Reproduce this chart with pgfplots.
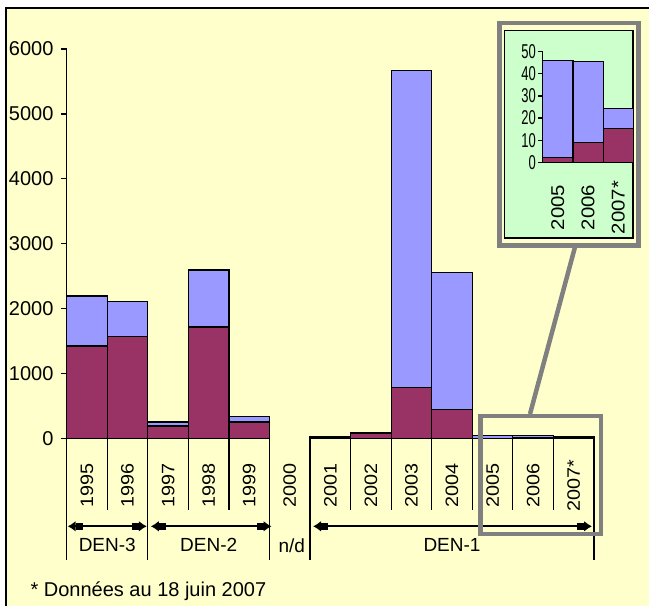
\documentclass[border=0pt]{standalone}
\usepackage{fontspec}
\setmainfont{Liberation Sans}
\newfontfamily\insetfont[FakeStretch=0.65]{Liberation Sans}
\newfontfamily\yearfont[FakeStretch=1.1]{Liberation Sans}
\usepackage{pgfplots}
\pgfplotsset{compat=1.18}
\usetikzlibrary{arrows.meta}
\definecolor{barred}{HTML}{993366}
\definecolor{barblue}{HTML}{9999FF}
\definecolor{bgyellow}{HTML}{FFFFCC}
\definecolor{insetgreen}{HTML}{CCFFCC}
\definecolor{framegray}{HTML}{808080}
\newcommand\fs[1]{\fontsize{#1}{#1}\selectfont}
\tikzset{denarrow/.style={line width=2pt,
  {Latex[length=8pt,width=11pt] Rectangle[length=7pt,width=7pt]}-{Rectangle[length=7pt,width=7pt] Latex[length=8pt,width=11pt]}}}
\begin{document}
\begin{tikzpicture}
\useasboundingbox (0pt,0pt) rectangle (649pt,-606pt);
\fill[white] (0pt,0pt) rectangle (649pt,-606pt);
\fill[bgyellow] (6pt,-8pt) rectangle (649pt,-606pt);
\draw[line width=1.6pt] (6pt,-606pt) -- (6pt,-8pt) -- (649pt,-8pt);

\begin{axis}[
  at={(66.7pt,-438.3pt)}, anchor=south west,
  scale only axis, width=527.3pt, height=389.3pt,
  xmin=-0.5, xmax=12.5, ymin=0, ymax=6000,
  clip=false,
  ybar stacked, bar width=40.56pt,
  axis x line=bottom, axis y line=left,
  axis line style={-, line width=1.5pt},
  x axis line style={draw=none},
  xtick={0,...,12},
  xticklabels={1995,1996,1997,1998,1999,2000,2001,2002,2003,2004,2005,2006,2007*},
  xtick style={draw=none},
  xticklabel style={yshift=-41.7pt, rotate=90, anchor=center, font=\yearfont\fs{18pt}},
  ytick={0,1000,2000,3000,4000,5000,6000},
  ytick style={line width=1.3pt, black},
  tick align=outside, major tick length=5.7pt,
  yticklabel style={font=\fs{20pt}, xshift=-4pt},
  /pgf/number format/assume math mode=true,
  /pgf/number format/1000 sep={},
]
\addplot[fill=barred, draw=black, line width=1.2pt] coordinates {
  (0,1422) (1,1566) (2,190) (3,1715) (4,251) (6,10) (7,80) (8,786) (9,447) (10,2) (11,9) (12,15)};
\addplot[fill=barblue, draw=black, line width=1.2pt] coordinates {
  (0,771) (1,539) (2,61) (3,878) (4,82) (6,10) (7,8) (8,4889) (9,2111) (10,44) (11,36) (12,9)};
\draw[line width=2pt] (axis cs:-0.5,0) -- (axis cs:4.5,0);
\draw[line width=2pt] (axis cs:5.5,0) -- (axis cs:12.5,0);
\pgfplotsinvokeforeach{0.5,2.5,3.5,6.5,7.5,8.5,9.5,10.5,11.5}{
  \draw[line width=1.2pt] (axis cs:#1,0) -- ++(0pt,-72pt);
}
\pgfplotsinvokeforeach{-0.5,1.5,4.5,5.5,12.5}{
  \draw[line width=1.2pt] (axis cs:#1,0) -- ++(0pt,-122pt);
}
\draw[denarrow]
  ([xshift=1pt,yshift=-88pt]axis cs:-0.5,0) -- ([xshift=-1pt,yshift=-88pt]axis cs:1.5,0);
\draw[denarrow]
  ([xshift=3pt,yshift=-88pt]axis cs:1.5,0) -- ([xshift=2pt,yshift=-88pt]axis cs:4.5,0);
\draw[denarrow]
  ([xshift=3pt,yshift=-88pt]axis cs:5.5,0) -- ([xshift=-2pt,yshift=-88pt]axis cs:12.5,0);
\node[font=\fs{19pt}] at ([yshift=-107pt]axis cs:0.5,0) {DEN-3};
\node[font=\fs{19pt}] at ([yshift=-107pt]axis cs:3.0,0) {DEN-2};
\node[font=\fs{19pt}] at ([yshift=-107pt]axis cs:5.05,0) {n/d};
\node[font=\fs{19pt}] at ([yshift=-107pt]axis cs:9.0,0) {DEN-1};
\end{axis}

% inset frame
\draw[framegray, line width=4.5pt] (499.3pt,-22.8pt) rectangle (638.5pt,-245.5pt);
\filldraw[fill=insetgreen, draw=black, line width=1.3pt] (504.5pt,-30.5pt) rectangle (633pt,-238pt);

\begin{axis}[
  at={(542.7pt,-162.3pt)}, anchor=south west,
  scale only axis, width=90.6pt, height=110.6pt,
  xmin=-0.5, xmax=2.5, ymin=0, ymax=50,
  clip=false,
  ybar stacked, bar width=30.2pt,
  axis x line=bottom, axis y line=left,
  axis line style={-, line width=1.5pt},
  xtick={0,1,2},
  xticklabels={2005,2006,2007*},
  xtick style={draw=none},
  xticklabel style={yshift=-40.7pt, rotate=90, anchor=center, font=\yearfont\fs{18.5pt}},
  ytick={0,10,20,30,40,50},
  ytick style={line width=1.3pt, black},
  tick align=outside, major tick length=4.4pt,
  yticklabel style={font=\insetfont\fs{20pt}, xshift=1pt},
  /pgf/number format/assume math mode=true,
]
\addplot[fill=barred, draw=black, line width=1.2pt] coordinates {(0,2.1) (1,8.9) (2,15.2)};
\addplot[fill=barblue, draw=black, line width=1.2pt] coordinates {(0,44.0) (1,36.6) (2,9.2)};
\end{axis}

% highlight box and connector
\draw[framegray, line width=4.5pt] (575pt,-247pt) -- (530pt,-414pt);
\draw[framegray, line width=4.5pt] (480.3pt,-416pt) rectangle (601pt,-534pt);

\node[anchor=base west, font=\fs{20pt}] at (27pt,-596pt) {* Données au 18 juin 2007};
\end{tikzpicture}
\end{document}
